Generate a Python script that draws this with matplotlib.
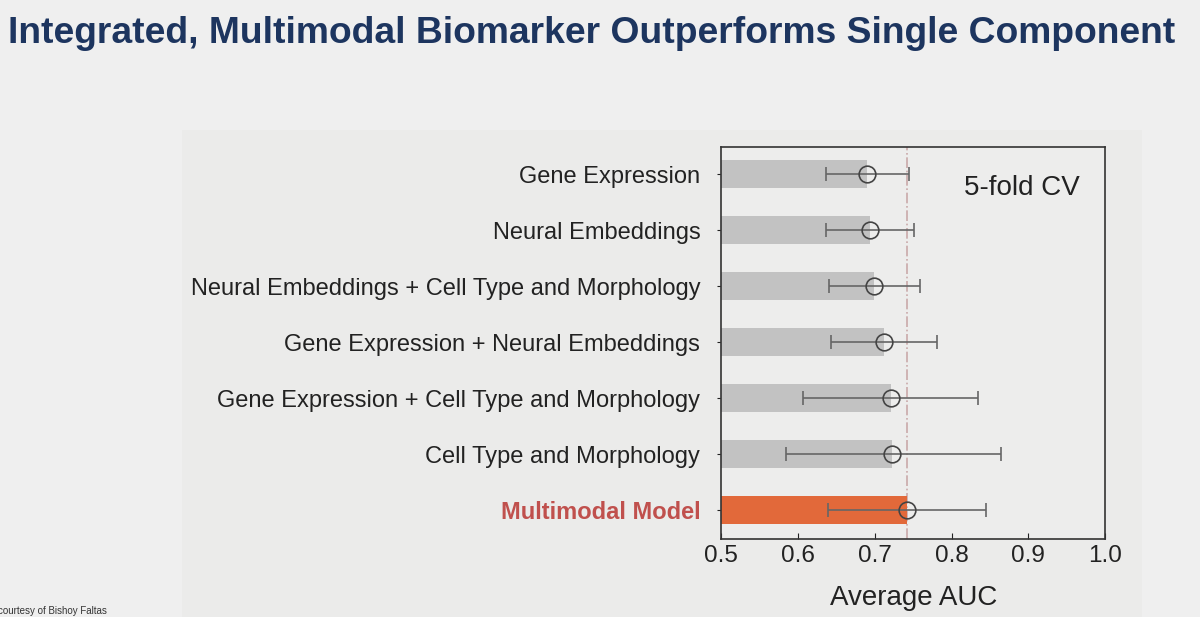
import matplotlib.pyplot as plt
from matplotlib.patches import Rectangle
import numpy as np

plt.rcParams['font.family'] = ['Liberation Sans', 'DejaVu Sans']

labels = ['Gene Expression', 'Neural Embeddings',
          'Neural Embeddings + Cell Type and Morphology',
          'Gene Expression + Neural Embeddings',
          'Gene Expression + Cell Type and Morphology',
          'Cell Type and Morphology', 'Multimodal Model']
auc = [0.690, 0.694, 0.699, 0.712, 0.721, 0.723, 0.742]
auc_low = [0.636, 0.637, 0.640, 0.643, 0.607, 0.585, 0.639]
auc_high = [0.745, 0.751, 0.759, 0.781, 0.834, 0.864, 0.845]
ref_line = 0.742

bg = '#efefef'
fig = plt.figure(figsize=(12, 6.17), dpi=100, facecolor=bg)
fig.patches.append(Rectangle((0.152, 0.0), 0.80, 0.79, transform=fig.transFigure,
                             facecolor='#ebebea', edgecolor='none', zorder=-10))
ax = fig.add_axes([0.601, 0.126, 0.320, 0.636])
ax.set_facecolor('#ededec')

y = np.arange(len(labels))
colors = ['#c2c2c2'] * (len(labels) - 1) + ['#e2693a']
ax.barh(y, np.array(auc) - 0.5, left=0.5, height=0.5, color=colors, zorder=2)

err = [np.array(auc) - np.array(auc_low), np.array(auc_high) - np.array(auc)]
ax.errorbar(auc, y, xerr=err, fmt='o', mfc='none', mec='#444444', ms=12, mew=1.2,
            ecolor='#666666', elinewidth=1.2, capsize=4.8, capthick=1.2, zorder=3)

ax.axvline(ref_line, color='#c9a9a9', linestyle='-.', linewidth=1.2, zorder=1)

ax.set_xlim(0.5, 1.0)
ax.set_ylim(6.52, -0.49)
ax.set_xticks([0.5, 0.6, 0.7, 0.8, 0.9, 1.0])
ax.set_xticklabels(['0.5', '0.6', '0.7', '0.8', '0.9', '1.0'])
ax.set_yticks(y)
ax.set_yticklabels(labels)
ax.tick_params(axis='x', direction='in', length=4, labelsize=17.5, pad=4, colors='#222222')
ax.tick_params(axis='y', direction='out', length=3, labelsize=17, pad=12, colors='#222222')
last = ax.get_yticklabels()[-1]
last.set_color('#c0504d')
last.set_fontweight('bold')
for s in ax.spines.values():
    s.set_color('#333333')
    s.set_linewidth(1.2)

ax.set_xlabel('Average AUC', fontsize=20, color='#222222', labelpad=13)
ax.text(0.935, 0.895, '5-fold CV', transform=ax.transAxes, ha='right', va='center',
        fontsize=20, color='#222222')

fig.text(0.007, 0.945, 'Integrated, Multimodal Biomarker Outperforms Single Component',
         fontsize=26.8, fontweight='bold', color='#1d355f', ha='left', va='center')
fig.text(-0.002, 0.01, 'courtesy of Bishoy Faltas', fontsize=7, color='#333333',
         ha='left', va='center')

fig.savefig('out.png', dpi=100, facecolor=bg)
